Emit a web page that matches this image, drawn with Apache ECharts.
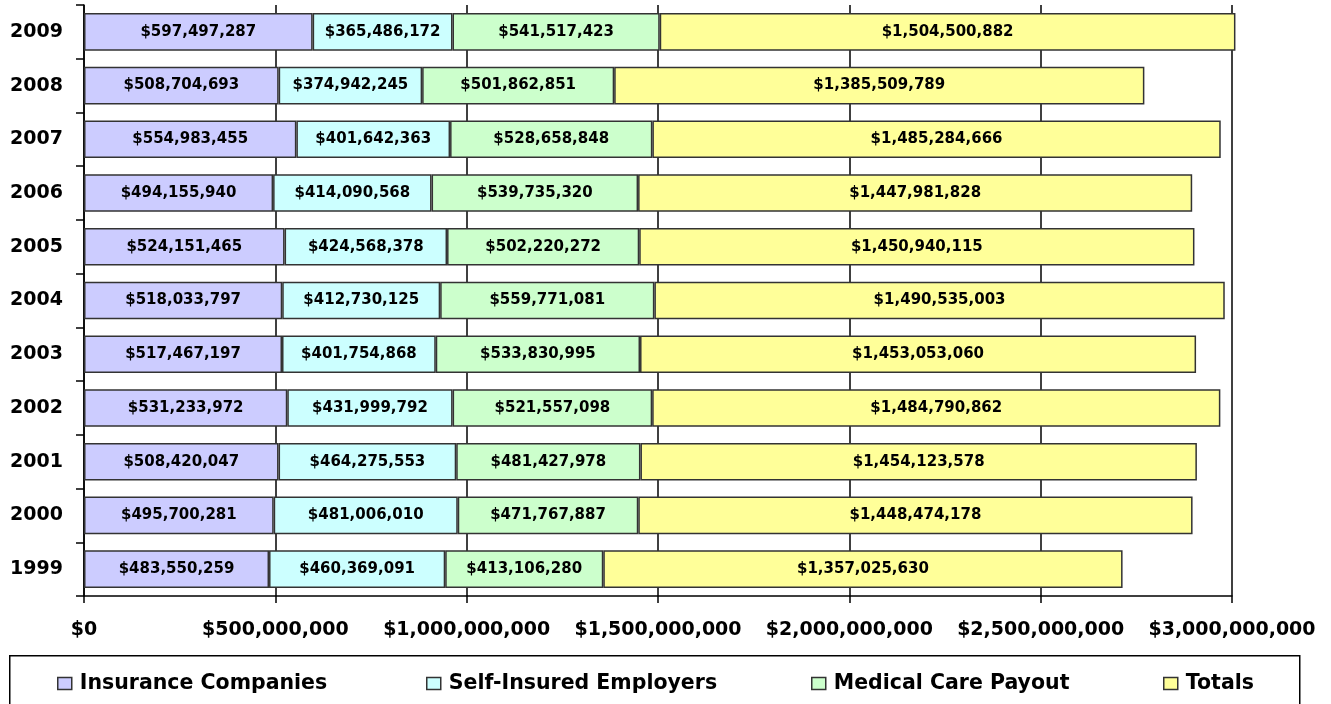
<!DOCTYPE html>
<html>
<head>
<meta charset="utf-8">
<script src="https://cdn.jsdelivr.net/npm/echarts@6/dist/echarts.min.js"></script>
<style>
html,body{margin:0;padding:0;background:#fff;}
#chart{width:1331px;height:704px;}
</style>
</head>
<body>
<div id="chart"></div>
<script>
const years = ['1999','2000','2001','2002','2003','2004','2005','2006','2007','2008','2009'];
const insuranceCompanies = [483550259, 495700281, 508420047, 531233972, 517467197, 518033797, 524151465, 494155940, 554983455, 508704693, 597497287];
const selfInsuredEmployers = [460369091, 481006010, 464275553, 431999792, 401754868, 412730125, 424568378, 414090568, 401642363, 374942245, 365486172];
const medicalCarePayout = [413106280, 471767887, 481427978, 521557098, 533830995, 559771081, 502220272, 539735320, 528658848, 501862851, 541517423];
const totals = [1357025630, 1448474178, 1454123578, 1484790862, 1453053060, 1490535003, 1450940115, 1447981828, 1485284666, 1385509789, 1504500882];
const seriesNames = ['Insurance Companies', 'Self-Insured Employers', 'Medical Care Payout', 'Totals'];

const FONT = '"DejaVu Sans", "Liberation Sans", Arial, sans-serif';
const fmt = v => '$' + Math.round(v).toString().replace(/\B(?=(\d{3})+(?!\d))/g, ',');

function mk(name, data, color) {
  return {
    name, type: 'bar', stack: 'all', data, clip: false,
    barCategoryGap: '30%',
    itemStyle: { color, borderColor: '#333333', borderWidth: 1.5 },
    label: {
      show: true, position: 'inside', color: '#000',
      fontFamily: FONT, fontWeight: 'bold', fontSize: 15,
      formatter: p => fmt(p.value)
    },
    emphasis: { disabled: true }
  };
}

const legendLefts = [57, 426, 811, 1163];
const legends = seriesNames.map((n, i) => ({
  data: [n], left: legendLefts[i], top: 673, padding: 0,
  itemWidth: 14, itemHeight: 12, icon: 'rect',
  itemStyle: { borderColor: '#333333', borderWidth: 1.5 },
  textStyle: { color: '#000', fontFamily: FONT, fontWeight: 'bold', fontSize: 20.5, padding: [0, 0, 0, 3] },
  selectedMode: false
}));

const chart = echarts.init(document.getElementById('chart'), null, { renderer: 'canvas' });
chart.setOption({
  animation: false,
  backgroundColor: '#fff',
  grid: { left: 84, right: 99, top: 5, height: 591, containLabel: false },
  xAxis: {
    type: 'value', min: 0, max: 3000000000, interval: 500000000,
    axisLine: { show: true, lineStyle: { color: '#000', width: 1.5 } },
    axisTick: { show: true, length: 7, lineStyle: { color: '#000', width: 1.5 } },
    splitLine: { show: true, lineStyle: { color: '#000', width: 1.5 } },
    axisLabel: {
      margin: 25, color: '#000', fontFamily: FONT, fontWeight: 'bold', fontSize: 19,
      formatter: v => fmt(v)
    }
  },
  yAxis: {
    type: 'category', data: years,
    axisLine: { show: true, lineStyle: { color: '#000', width: 1.5 } },
    axisTick: { show: true, length: 8, lineStyle: { color: '#000', width: 1.5 } },
    axisLabel: { margin: 21, color: '#000', fontFamily: FONT, fontWeight: 'bold', fontSize: 19 }
  },
  legend: legends,
  graphic: [{
    type: 'rect', left: 9, top: 655, z: -1,
    shape: { x: 0, y: 0, width: 1290, height: 60 },
    style: { fill: '#fff', stroke: '#000', lineWidth: 1.5 }
  }],
  series: [
    mk(seriesNames[0], insuranceCompanies, '#CCCCFF'),
    mk(seriesNames[1], selfInsuredEmployers, '#CCFFFF'),
    mk(seriesNames[2], medicalCarePayout, '#CCFFCC'),
    mk(seriesNames[3], totals, '#FFFF99')
  ]
});
</script>
</body>
</html>
